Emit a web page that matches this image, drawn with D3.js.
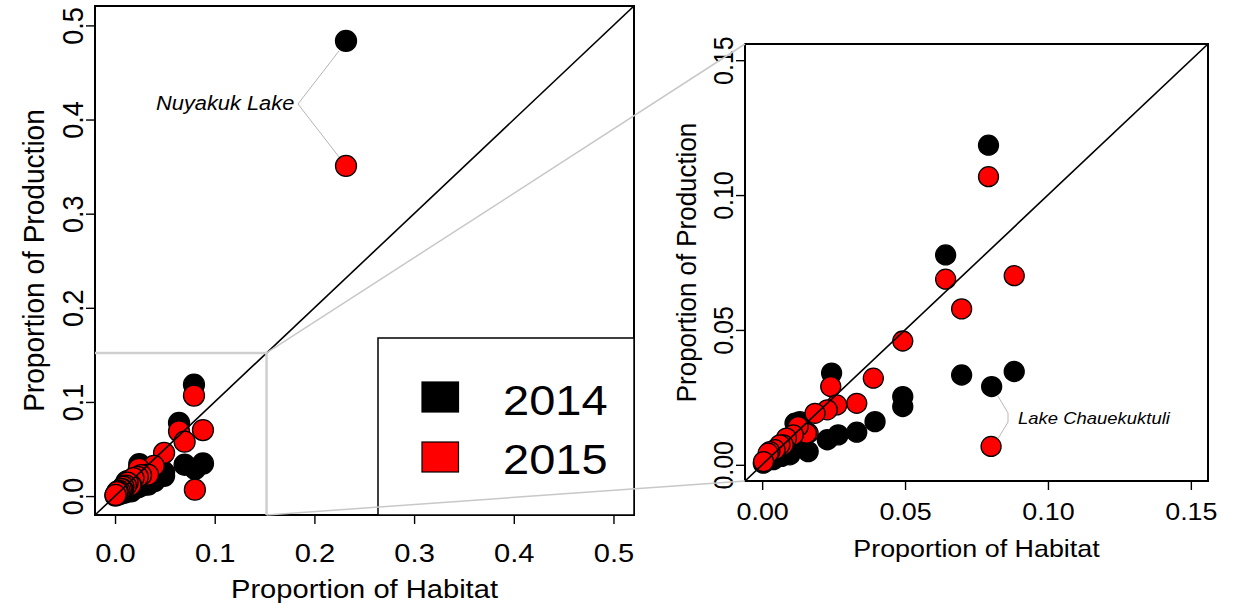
<!DOCTYPE html>
<html>
<head>
<meta charset="utf-8">
<script src="https://cdn.jsdelivr.net/npm/d3@7"></script>
<style>
  body { margin: 0; background: #fff; }
  svg text { font-family: "Liberation Sans", Arial, Helvetica, sans-serif; fill: #000; }
</style>
</head>
<body>
<svg id="chart" width="1233" height="611"></svg>
<script>
// Proportion of habitat vs proportion of production, by lake, for two years
const habitat2014 = [0.0792, 0.0642, 0.0698, 0.0803, 0.0882, 0.0492, 0.0492, 0.0243, 0.0395, 0.0331,
                     0.0266, 0.0228, 0.0161, 0.0132, 0.0115, 0.0126, 0.0097, 0.0074, 0.0068, 0.0039,
                     0.0068, 0.0004, 0.2317];
const production2014 = [0.1185, 0.0778, 0.0333, 0.0290, 0.0346, 0.0253, 0.0216, 0.0340, 0.0160, 0.0121,
                        0.0111, 0.0093, 0.0049, 0.0160, 0.0154, 0.0093, 0.0037, 0.0049, 0.0031, 0.0019,
                        0.0062, 0.0006, 0.4835];
const habitat2015 = [0.0792, 0.0642, 0.0882, 0.0698, 0.0492, 0.0389, 0.0240, 0.0331, 0.0261, 0.0228,
                     0.0185, 0.0161, 0.0155, 0.0126, 0.0109, 0.0085, 0.0074, 0.0062, 0.0045, 0.0027,
                     0.0021, 0.0005, 0.0801, 0.2317];
const production2015 = [0.1068, 0.0688, 0.0701, 0.0578, 0.0459, 0.0321, 0.0290, 0.0228, 0.0222, 0.0204,
                        0.0191, 0.0117, 0.0117, 0.0142, 0.0111, 0.0099, 0.0074, 0.0074, 0.0056, 0.0049,
                        0.0043, 0.0012, 0.0068, 0.3507];
const years = ["2014", "2015"];
const yearFills = ["#000000", "#ff0000"];
const overviewTicks = [0, 0.1, 0.2, 0.3, 0.4, 0.5];
const detailTicks = [0, 0.05, 0.10, 0.15];
const overviewLimits = [-0.0201, 0.5206];
const detailLimits = [-0.006, 0.156];
const zoomEdge = 0.152;
const axisTitleX = "Proportion of Habitat";
const axisTitleY = "Proportion of Production";

const series = [
  { year: years[0], fill: yearFills[0], pts: habitat2014.map((h, i) => ({ h, p: production2014[i] })) },
  { year: years[1], fill: yearFills[1], pts: habitat2015.map((h, i) => ({ h, p: production2015[i] })) }
];

const svg = d3.select("#chart");
svg.append("rect").attr("width", 1233).attr("height", 611).attr("fill", "#fff");

const SX = 1.12; // horizontal widening of the lettering

function buildPanel(cfg) {
  const x = d3.scaleLinear().domain(cfg.limits).range([cfg.x0, cfg.x1]);
  const y = d3.scaleLinear().domain(cfg.limits).range([cfg.y1, cfg.y0]);
  const g = svg.append("g");

  g.append("clipPath").attr("id", cfg.id + "-clip")
    .append("rect").attr("x", cfg.x0).attr("y", cfg.y0)
    .attr("width", cfg.x1 - cfg.x0).attr("height", cfg.y1 - cfg.y0);

  const plot = g.append("g").attr("clip-path", `url(#${cfg.id}-clip)`);

  series.forEach(s => {
    plot.append("g").selectAll("circle").data(s.pts).join("circle")
      .attr("cx", d => x(d.h)).attr("cy", d => y(d.p)).attr("r", cfg.r)
      .attr("fill", s.fill).attr("stroke", "#000").attr("stroke-width", 1.3);
  });

  // one-to-one line
  plot.append("line")
    .attr("x1", x(cfg.limits[0])).attr("y1", y(cfg.limits[0]))
    .attr("x2", x(cfg.limits[1])).attr("y2", y(cfg.limits[1]))
    .attr("stroke", "#000").attr("stroke-width", 1.6);

  // x axis
  const xa = g.append("g").attr("transform", `translate(0,${cfg.y1})`)
    .call(d3.axisBottom(x).tickValues(cfg.ticks).tickSize(9).tickFormat(d3.format(cfg.fmt)));
  xa.select(".domain").remove();
  xa.selectAll(".tick line").attr("stroke", "#000").attr("stroke-width", 1.4);
  xa.selectAll(".tick text")
    .attr("y", cfg.xLabBase - cfg.y1).attr("dy", 0)
    .attr("font-size", cfg.fs).attr("fill", "#000")
    .attr("transform", `scale(${SX},1)`);

  // y axis
  const ya = g.append("g").attr("transform", `translate(${cfg.x0},0)`)
    .call(d3.axisLeft(y).tickValues(cfg.ticks).tickSize(9).tickFormat(d3.format(cfg.fmt)));
  ya.select(".domain").remove();
  ya.selectAll(".tick line").attr("stroke", "#000").attr("stroke-width", 1.4);
  ya.selectAll(".tick text")
    .attr("x", 0).attr("y", 0).attr("dy", 0)
    .attr("text-anchor", "middle")
    .attr("font-size", cfg.fs).attr("fill", "#000")
    .attr("transform", `translate(${cfg.yLabBase - cfg.x0},0) rotate(-90) scale(1.04,${SX})`);

  // frame
  g.append("rect").attr("x", cfg.x0).attr("y", cfg.y0)
    .attr("width", cfg.x1 - cfg.x0).attr("height", cfg.y1 - cfg.y0)
    .attr("fill", "none").attr("stroke", "#000").attr("stroke-width", 2);

  // axis titles
  g.append("text").text(axisTitleX)
    .attr("text-anchor", "middle").attr("font-size", cfg.fs)
    .attr("transform", `translate(${(cfg.x0 + cfg.x1) / 2},${cfg.xTitleBase}) scale(${SX},1)`);
  g.append("text").text(axisTitleY)
    .attr("text-anchor", "middle").attr("font-size", cfg.fs)
    .attr("transform", `translate(${cfg.yTitleBase},${(cfg.y0 + cfg.y1) / 2}) rotate(-90) scale(1.08,${SX})`);

  return { x, y, g, cfg };
}

const overview = buildPanel({
  id: "overview", limits: overviewLimits, ticks: overviewTicks, fmt: ".1f",
  x0: 95, x1: 634, y0: 6, y1: 515, r: 10.5, fs: 26,
  xLabBase: 562, xTitleBase: 598, yLabBase: 82.5, yTitleBase: 44
});

const detail = buildPanel({
  id: "detail", limits: detailLimits, ticks: detailTicks, fmt: ".2f",
  x0: 745, x1: 1208, y0: 44, y1: 481, r: 10, fs: 24,
  xLabBase: 520, xTitleBase: 557, yLabBase: 733, yTitleBase: 696
});

// outline of the enlarged region on the overview panel
const ox = overview.x, oy = overview.y;
svg.append("path")
  .attr("d", `M${ox(overviewLimits[0])},${oy(zoomEdge)}H${ox(zoomEdge)}V${oy(overviewLimits[0])}`)
  .attr("fill", "none").attr("stroke", "#cfcfcf").attr("stroke-width", 2.5);

// legend
const lg = svg.append("g");
lg.append("rect").attr("x", 378).attr("y", 338).attr("width", 634 - 378).attr("height", 515 - 338)
  .attr("fill", "#fff").attr("stroke", "#000").attr("stroke-width", 1.5);
years.forEach((yr, i) => {
  lg.append("rect").attr("x", 422).attr("y", 382 + i * 60).attr("width", 36.5).attr("height", 30)
    .attr("fill", yearFills[i]).attr("stroke", "#000").attr("stroke-width", 1.2);
  lg.append("text").text(yr).attr("font-size", 42)
    .attr("transform", `translate(503,${415 + i * 58.5}) scale(${SX},1)`);
});

// guide lines from the outlined region to the detail panel
const dc = detail.cfg;
[[oy(zoomEdge), dc.y0], [oy(overviewLimits[0]), dc.y1]].forEach(([ya, yb]) => {
  svg.append("line")
    .attr("x1", ox(zoomEdge)).attr("y1", ya).attr("x2", dc.x0).attr("y2", yb)
    .attr("stroke", "#c8c8c8").attr("stroke-width", 1.5);
});

// lake labels
const nuy = svg.append("g");
nuy.append("path")
  .attr("d", `M${ox(0.2317) - 7},${oy(0.4835) + 10}L298,104L${ox(0.2317) - 7},${oy(0.3507) - 9}`)
  .attr("fill", "none").attr("stroke", "#b5b5b5").attr("stroke-width", 1);
nuy.append("text").text("Nuyakuk Lake").attr("font-size", 19.5).attr("font-style", "italic")
  .attr("transform", `translate(156,110) scale(${SX},1)`);

const dx = detail.x, dy = detail.y;
const cha = svg.append("g");
cha.append("path")
  .attr("d", `M${dx(0.0803) + 6},${dy(0.0290) + 9}L1008,413V422L${dx(0.0801) + 7},${dy(0.0068) - 8}`)
  .attr("fill", "none").attr("stroke", "#c4b4b4").attr("stroke-width", 1);
cha.append("text").text("Lake Chauekuktuli").attr("font-size", 16.5).attr("font-style", "italic")
  .attr("transform", `translate(1018,424) scale(${SX},1)`);
</script>
</body>
</html>
